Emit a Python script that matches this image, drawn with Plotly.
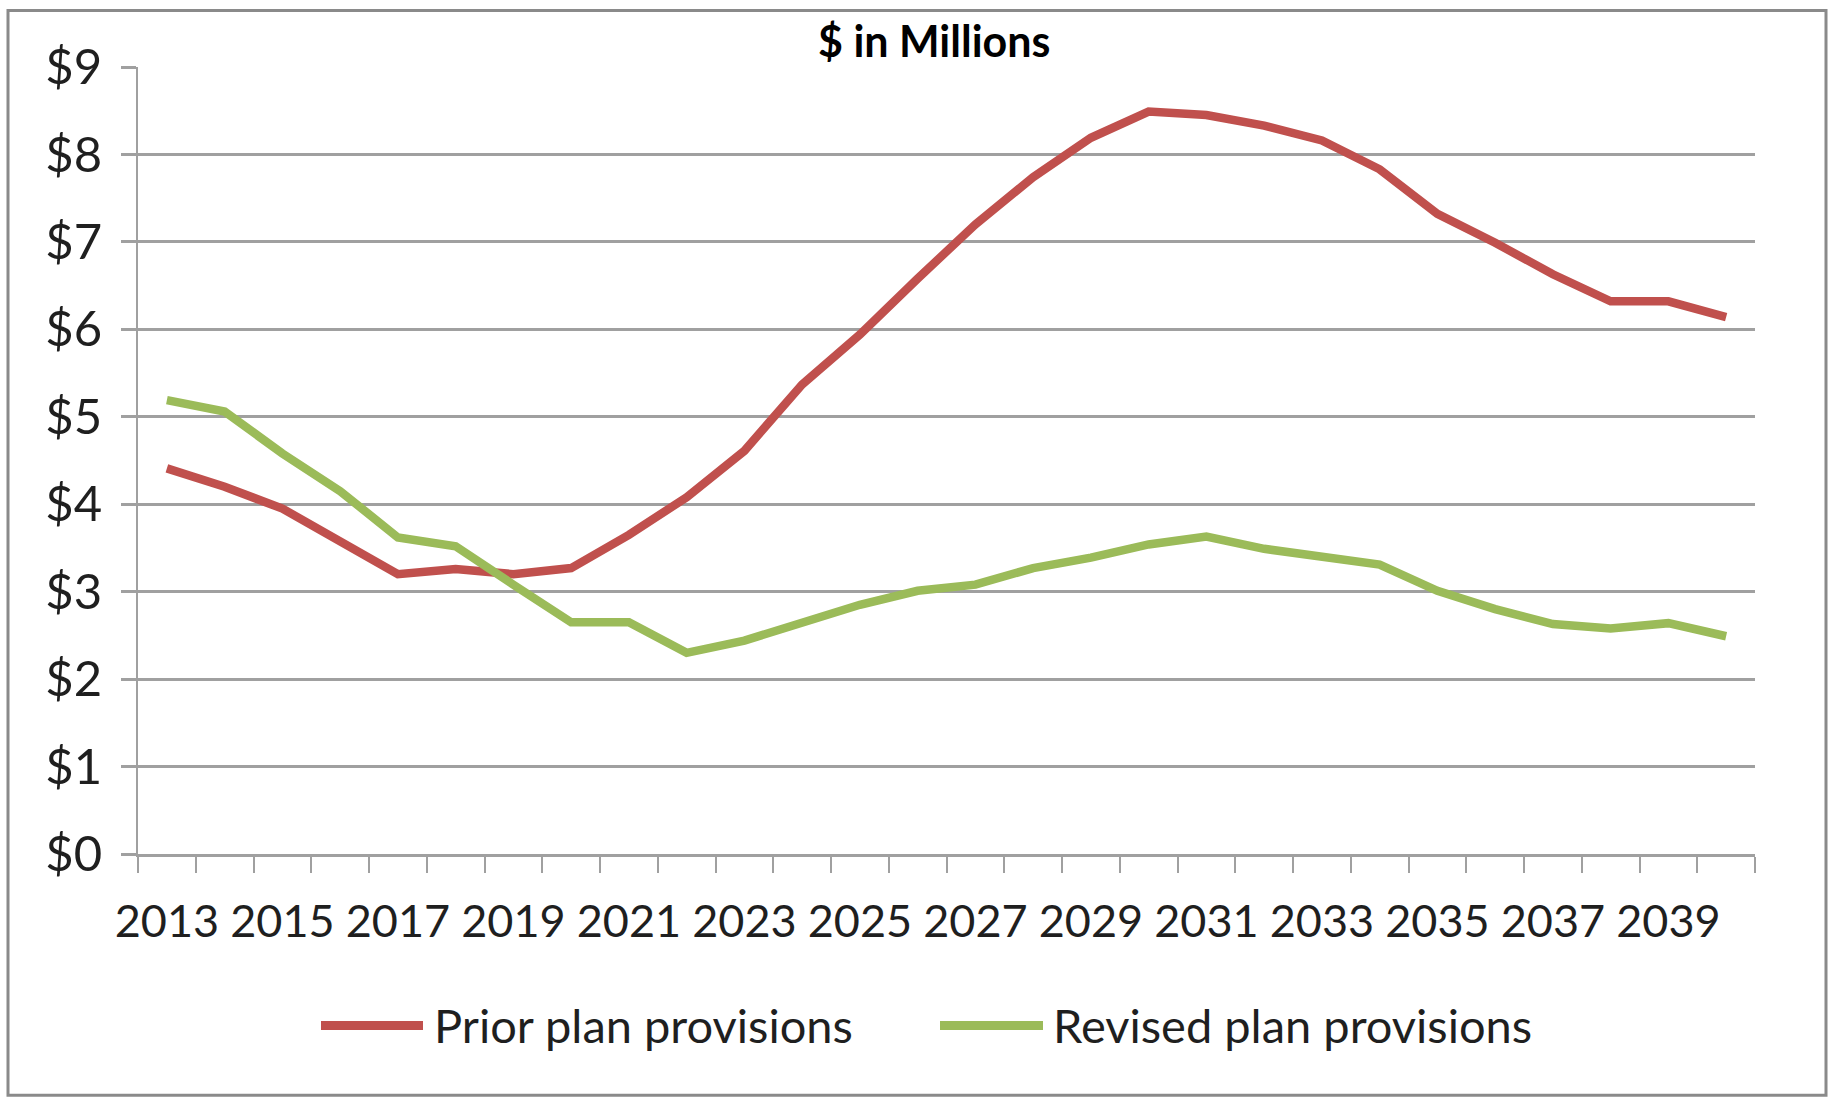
import plotly.graph_objects as go

# ---- data ----
years = list(range(2013, 2041))
prior_plan = [4.41, 4.20, 3.95, 3.58, 3.20, 3.26, 3.20, 3.27, 3.65, 4.08,
              4.61, 5.37, 5.94, 6.58, 7.20, 7.74, 8.19, 8.49, 8.45, 8.33,
              8.16, 7.83, 7.32, 6.99, 6.63, 6.32, 6.32, 6.14]
revised_plan = [5.19, 5.06, 4.58, 4.15, 3.62, 3.52, 3.08, 2.65, 2.65, 2.30,
                2.44, 2.64, 2.85, 3.01, 3.08, 3.27, 3.39, 3.54, 3.63, 3.49,
                3.41, 3.31, 3.01, 2.80, 2.63, 2.58, 2.64, 2.49]
series_names = ["Prior plan provisions", "Revised plan provisions"]
series_colors = ["#C0504D", "#9BBB59"]
x_tick_labels = [str(y) for y in range(2013, 2041, 2)]
y_tick_values = list(range(0, 10))
y_tick_labels = ["$" + str(v) for v in y_tick_values]
title_text = "$ in Millions"

W, H = 1831, 1099
L, R, T, B = 138, 76, 66.5, 245.4
pw, ph = W - L - R, H - T - B

def px_x(p):
    return (p - L) / pw

def px_y(p):
    return (H - B - p) / ph

FONT = "Lato, 'Open Sans', sans-serif"
TXT = "#1f1f1f"
GRID = "#A0A0A0"

fig = go.Figure()
for name, vals, col in zip(series_names, [prior_plan, revised_plan], series_colors):
    fig.add_trace(go.Scatter(x=years, y=vals, mode="lines", name=name,
                             line=dict(color=col, width=8.5), showlegend=False))

fig.update_layout(
    width=W, height=H,
    margin=dict(l=L, r=R, t=T, b=B),
    paper_bgcolor="white", plot_bgcolor="white",
    font=dict(family=FONT, color=TXT),
    showlegend=False,
)

fig.update_xaxes(
    range=[years[0] - 0.5, years[-1] + 0.5],
    tickmode="array", tickvals=list(range(2013, 2041, 2)), ticktext=x_tick_labels,
    ticks="", showgrid=False, zeroline=False,
    showline=True, linecolor=GRID, linewidth=2.5,
    tickfont=dict(size=45, color=TXT),
    ticklabelstandoff=26,
    minor=dict(tickmode="array", tickvals=[y - 0.5 for y in years] + [years[-1] + 0.5],
               ticks="outside", ticklen=16, tickwidth=2, tickcolor=GRID, showgrid=False),
)
fig.update_yaxes(
    range=[0, 9], tickmode="array", tickvals=y_tick_values, ticktext=y_tick_labels,
    ticks="outside", ticklen=15, tickwidth=2.5, tickcolor=GRID,
    showgrid=True, gridcolor=GRID, gridwidth=2.5, zeroline=False,
    showline=True, linecolor=GRID, linewidth=2,
    tickfont=dict(size=49, color=TXT),
    ticklabelstandoff=9,
)

# title
fig.add_annotation(text="<b>" + title_text + "</b>", x=px_x(934), y=px_y(40),
                   xref="paper", yref="paper", xanchor="center", yanchor="middle",
                   showarrow=False, font=dict(size=43, color="#000000", family=FONT))

# outer frame
fig.add_shape(type="rect", xref="paper", yref="paper",
              x0=px_x(8), x1=px_x(1826), y0=px_y(1095), y1=px_y(10),
              line=dict(color="#8A8A8A", width=3), fillcolor="rgba(0,0,0,0)", layer="below")

# legend (drawn)
leg_y = px_y(1025)
leg_items = [(321, 423, 432), (940, 1043, 1051)]
for (lx0, lx1, tx), name, col in zip(leg_items, series_names, series_colors):
    fig.add_shape(type="line", xref="paper", yref="paper", x0=px_x(lx0), x1=px_x(lx1),
                  y0=leg_y, y1=leg_y, line=dict(color=col, width=9))
    fig.add_annotation(text=name, x=px_x(tx), y=leg_y, xref="paper", yref="paper",
                       xanchor="left", yanchor="middle", showarrow=False,
                       font=dict(size=47, color=TXT, family=FONT))

fig.write_html("out.html")
